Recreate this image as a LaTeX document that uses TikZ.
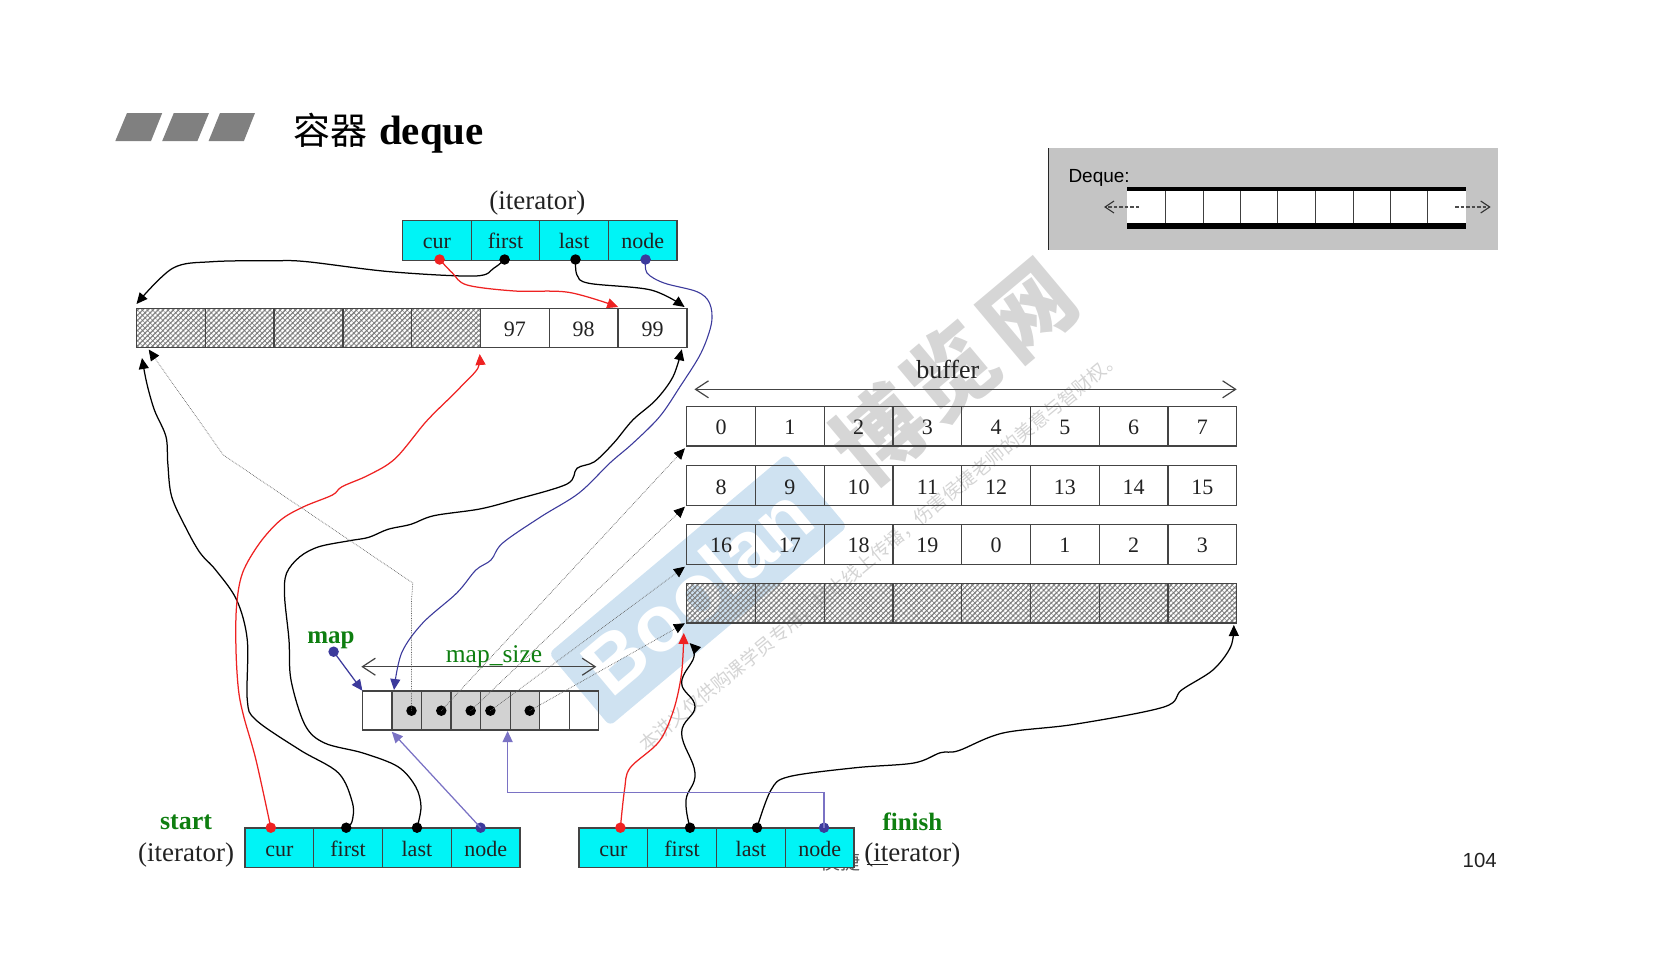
\documentclass[tikz,border=0pt]{standalone}
\usepackage{fontspec}
\setmainfont{Liberation Serif}
\newfontfamily\cjkfont{Noto Sans CJK SC}
\newfontfamily\arialfont{Liberation Sans}
\usetikzlibrary{arrows.meta,patterns.meta,shapes.geometric}
\newcommand\myfs[1]{\fontsize{#1}{#1}\selectfont}
\definecolor{cyanbox}{HTML}{00F4F6}
\definecolor{greenlab}{HTML}{0E7E10}
\definecolor{ink}{HTML}{222222}
\definecolor{edge}{HTML}{444444}
\definecolor{redline}{HTML}{EE2222}
\definecolor{blueline}{HTML}{3C3A9C}
\definecolor{softblue}{HTML}{7A72C4}
\definecolor{wmblue}{HTML}{CFE2F1}
\definecolor{wmgrey}{HTML}{D6D6D6}
\definecolor{wmsmall}{HTML}{D4D4D4}
\definecolor{insetgrey}{HTML}{C4C4C4}
\definecolor{mapgrey}{HTML}{D2D2D2}
\tikzset{
  basecell/.style={draw=edge,line width=1.3pt,inner sep=0pt,outer sep=0pt,text=ink,font=\myfs{22},text height=22pt,text depth=5pt},
  itercell/.style={basecell,fill=cyanbox,minimum width=68.7pt,minimum height=39.5pt},
  arrcell/.style={basecell,minimum width=68.75pt,minimum height=39.5pt},
  hatchcell/.style={arrcell,
    preaction={pattern={Lines[angle=45,distance=3.6pt,line width=1.3pt]},pattern color=black!48},
    pattern={Lines[angle=-45,distance=3.6pt,line width=.45pt]},pattern color=black!55},
  mapcell/.style={basecell,minimum width=29.55pt,minimum height=39pt},
  lab/.style={inner sep=0pt,text=ink,font=\myfs{27}},
  glab/.style={inner sep=0pt,text=greenlab,font=\myfs{26}\bfseries},
  dotnode/.style={circle,fill=#1,inner sep=0pt,minimum size=10.5pt},
  tip/.style={-{Triangle[length=11pt,width=10pt]}},
  curve/.style={line width=1.25pt,tip,#1},
  dotlink/.style={line width=.7pt,draw=black!62,densely dotted,-{Triangle[length=11pt,width=10pt,color=black]}},
  span/.style={line width=1.2pt,draw=edge,{Straight Barb[length=13pt,width=17pt]}-{Straight Barb[length=13pt,width=17pt]}},
  wmchar/.style={inner sep=0pt,rotate=40,text=wmgrey,font=\myfs{90}\cjkfont\bfseries},
}
\begin{document}
\begin{tikzpicture}[x=1pt,y=-1pt]
\useasboundingbox (0,0) rectangle (1653,967);

% watermark, behind everything
\node[fill=wmblue,rotate=40,minimum width=310pt,minimum height=95pt,rounded corners=6pt] (wmbox) at (698,590) {};
\node[inner sep=0pt,rotate=40,text=white,font=\myfs{80}\arialfont\bfseries] (wmname) at (697,590) {Boolan};
\node[wmchar] (wm1) at (880,434) {博};
\node[wmchar] (wm2) at (950,372) {览};
\node[wmchar] (wm3) at (1029,311) {网};
\node[inner sep=0pt,rotate=39.4,text=wmsmall,font=\myfs{18.7}\cjkfont] (wmtext) at (880,551) {本讲义仅供购课学员专用，禁止线上传播，伤害侯捷老师的美意与智财权。};

% title
\fill[black!50] (115.3,141) -- (127,113) -- (162.2,113) -- (151,141) -- cycle;
\fill[black!50] (162.2,141) -- (173.8,113) -- (209,113) -- (197.4,141) -- cycle;
\fill[black!50] (208.6,141) -- (220,113) -- (255,113) -- (243.9,141) -- cycle;
\node[anchor=base west,inner sep=0pt,text=black] (title) at (292.8,144) {{\myfs{37}\cjkfont 容器}\hspace{12pt}{\myfs{41}\bfseries deque}};

% inset
\fill[insetgrey] (1048.3,148.3) rectangle (1498.3,250);
\draw[line width=1.2pt,black!85] (1048.3,148.3) -- (1048.3,250);
\fill[white] (1127,190) rectangle (1465.7,224);
\fill[black] (1127,186.7) rectangle (1465.7,191.3);
\fill[black] (1127,223) rectangle (1465.7,229);
\foreach \vx in {1165.7,1203,1240.3,1277.7,1315.3,1353.3,1390.3,1427.7}
  \draw[line width=.9pt,black!75] (\vx,191) -- (\vx,223);
\node[anchor=west,inner sep=0pt,text=black,font=\myfs{19}\arialfont] (dequelab) at (1068.3,178) {Deque:};
\coordinate (insL0) at (1139,207);
\coordinate (insL1) at (1104,207);
\coordinate (insR0) at (1455,207);
\coordinate (insR1) at (1490.7,207);
\draw[line width=1.1pt,black!70,dash pattern=on 3.5pt off 2pt,-{Straight Barb[length=9pt,width=12pt,color=black!80]}] (insL0) -- (insL1);
\draw[line width=1.1pt,black!70,dash pattern=on 3.5pt off 2pt,-{Straight Barb[length=9pt,width=12pt,color=black!80]}] (insR0) -- (insR1);

% top iterator
\foreach \t [count=\i] in {cur,first,last,node}
  \node[itercell,minimum width=68.6pt] (t\i) at ({402.6+68.6*(\i-.5)},240.4) {\t};
\node[lab] (titer) at (537.4,203.5) {(iterator)};

% top array
\foreach \i in {1,...,5}
  \node[hatchcell,minimum width=68.8pt] (a\i) at ({136.5+68.8*(\i-.5)},328) {};
\foreach \t [count=\i from 6] in {97,98,99}
  \node[arrcell,minimum width=68.8pt] (a\i) at ({136.5+68.8*(\i-.5)},328) {\t};

% buffers
\node[lab,font=\myfs{26}] (buflab) at (947.8,369) {buffer};
\coordinate (bufL) at (694.4,389.3);
\coordinate (bufR) at (1236.7,389.3);
\draw[span] (bufL) -- (bufR);
\foreach \t [count=\i] in {0,1,2,3,4,5,6,7}
  \node[arrcell] (ba\i) at ({686.8+68.75*(\i-.5)},426.3) {\t};
\foreach \t [count=\i] in {8,9,10,11,12,13,14,15}
  \node[arrcell] (bb\i) at ({686.8+68.75*(\i-.5)},485.5) {\t};
\foreach \t [count=\i] in {16,17,18,19,0,1,2,3}
  \node[arrcell] (bc\i) at ({686.8+68.75*(\i-.5)},544.4) {\t};
\foreach \i in {1,...,8}
  \node[hatchcell] (bd\i) at ({686.8+68.75*(\i-.5)},603.2) {};

% map
\node[mapcell] (m1) at (377.2,710.5) {};
\foreach \i in {2,...,6}
  \node[mapcell,fill=mapgrey] (m\i) at ({362.4+29.55*(\i-.5)},710.5) {};
\node[mapcell] (m7) at (554.4,710.5) {};
\node[mapcell] (m8) at (584,710.5) {};
\node[glab,font=\myfs{25}\bfseries] (maplab) at (331,640) {map};
\node[lab,font=\myfs{25.5},text=greenlab] (mapsize) at (494,656.5) {map\_size};
\coordinate (msL) at (361.3,666.7);
\coordinate (msR) at (596.3,666.7);
\draw[span] (msL) -- (msR);

% lower iterators
\foreach \t [count=\i] in {cur,first,last,node}
  \node[itercell,minimum width=68.8pt] (s\i) at ({244.9+68.8*(\i-.5)},847.7) {\t};
\node[glab] (startlab) at (186,822.5) {start};
\node[lab] (siter) at (186,855) {(iterator)};

\node[inner sep=0pt,text=black!65,font=\myfs{20}\cjkfont] (author) at (840,862) {侯捷};
\foreach \t [count=\i] in {cur,first,last,node}
  \node[itercell,minimum width=68.8pt] (f\i) at ({578.9+68.8*(\i-.5)},847.7) {\t};
\node[glab,font=\myfs{25}\bfseries] (finishlab) at (912.4,821.5) {finish};
\node[lab] (fiter) at (912.4,855) {(iterator)};
\draw[line width=1pt,ink] (866.7,864) -- (888,864);

% dot nodes
\node[dotnode=redline] (tcur) at (439.6,259.5) {};
\node[dotnode=black] (tfirst) at (504.6,259.5) {};
\node[dotnode=black] (tlast) at (575.5,259.5) {};
\node[dotnode=blueline] (tnode) at (645.6,259.5) {};
\node[dotnode=redline] (scur) at (270.8,827.7) {};
\node[dotnode=black] (sfirst) at (346.2,827.7) {};
\node[dotnode=black] (slast) at (417,827.7) {};
\node[dotnode=blueline] (snode) at (480.6,827.7) {};
\node[dotnode=redline] (fcur) at (620.4,827.7) {};
\node[dotnode=black] (ffirst) at (690,827.7) {};
\node[dotnode=black] (flast) at (757,827.7) {};
\node[dotnode=blueline] (fnode) at (824,827.7) {};
\node[dotnode=blueline] (mapdot) at (333.6,651.7) {};
\node[dotnode=black] (d1) at (411.5,710.7) {};
\node[dotnode=black] (d2) at (441.3,710.7) {};
\node[dotnode=black] (d3) at (470.7,710.7) {};
\node[dotnode=black] (d4) at (490.4,710.7) {};
\node[dotnode=black] (d5) at (529.7,710.7) {};

% arrow targets
\coordinate (aTopLeft) at (136.5,304);
\coordinate (aRedTop) at (618.2,307);
\coordinate (aLastTop) at (684.6,307);
\coordinate (aBelow1) at (142,358);
\coordinate (aBelow2) at (148.7,349.5);
\coordinate (aBelowR) at (479.7,354);
\coordinate (aBelowE) at (681.8,349.3);
\coordinate (mTop) at (394,690);
\coordinate (mCorner) at (362.4,690.7);
\coordinate (mUnder1) at (391.8,731.7);
\coordinate (mUnder2) at (507.6,731);
\coordinate (bendA) at (507.6,792.7);
\coordinate (bendB) at (824,792.7);
\coordinate (rowA) at (684.9,448.3);
\coordinate (rowB) at (684.9,506.7);
\coordinate (rowC) at (684.9,566.7);
\coordinate (rowD) at (684.9,623.3);
\coordinate (fRedTip) at (683.8,633);
\coordinate (fFirstTip) at (689.6,643);
\coordinate (fLastTip) at (1233.8,625);

% top iterator links
\draw[curve=black] plot[smooth,tension=.55] coordinates {(tfirst.center) (494,268) (475,276) (390,271.7) (307,261.7) (274,260.7) (212,261.7) (172.6,268.3) (aTopLeft)};
\draw[curve=redline] plot[smooth,tension=.55] coordinates {(tcur.center) (452.4,273) (467,285) (514.6,291) (568.5,292.3) (aRedTop)};
\draw[curve=black] plot[smooth,tension=.55] coordinates {(tlast.center) (577,275) (589,283.3) (651,290) (aLastTop)};
\draw[curve=blueline,line width=1.1pt] plot[smooth,tension=.55] coordinates {(tnode.center) (647,273) (664,283) (697,291.7) (709.5,303) (711.5,323) (701,353) (680,386.7) (659.6,416.7) (632.8,443.3) (609.9,463) (579,493) (541,516.7) (502.7,543) (491,560) (475.9,570) (456.8,593) (422.7,623) (401.6,653) (mTop)};

% start links
\draw[curve=black] plot[smooth,tension=.55] coordinates {(sfirst.center) (352,821.7) (352.5,803) (338.5,773) (300,750) (256,720) (247.3,700) (247.3,640) (236.7,600) (215.7,570) (200.4,553.3) (187,530) (171.7,496.7) (167.8,463.3) (166,436.7) (154.4,410) (146.8,383.3) (aBelow1)};
\draw[curve=redline] plot[smooth,tension=.55] coordinates {(scur.center) (256,760) (243.8,716.7) (238.5,690) (236,650) (236.5,606.7) (242.5,573) (259.7,543) (280.7,520) (303.7,506.7) (332.4,495) (342,486.7) (368.8,475) (395.5,458.3) (426,421.7) (451,396.7) (462.5,385) (477.8,368.3) (aBelowR)};
\draw[curve=black] plot[smooth,tension=.55] coordinates {(slast.center) (421,806.7) (415.7,786.7) (398,766.7) (363,753) (324.5,743) (305,725) (291,680) (289,640) (284.6,596.7) (286.5,573.3) (299.9,556.7) (319,546.7) (349.6,540.7) (368.8,537.3) (388,529.3) (410.9,524.3) (433.8,515.7) (479.7,509) (514,500) (567,484) (577,468.3) (594.5,461.7) (613.7,443) (632.8,420) (655.8,400) (673,376.7) (aBelowE)};
\draw[curve=softblue] (snode.center) -- (mUnder1);

% finish links
\draw[curve=redline] plot[smooth,tension=.55] coordinates {(fcur.center) (624.5,790) (630,768) (659,741.7) (673.6,710) (681.6,673) (fRedTip)};
\draw[curve=black] plot[smooth,tension=.7] coordinates {(ffirst.center) (686,800) (695,773) (681.6,733) (695,706.7) (681.6,683) (694,656.7) (fFirstTip)};
\draw[curve=black] plot[smooth,tension=.55] coordinates {(flast.center) (771,790) (788.8,776.7) (855.7,767.7) (913.8,763) (940.5,752.7) (958.4,750.7) (1003,733) (1074.5,724.3) (1163.8,707) (1181.6,690) (1212.9,670) (1230.7,646.7) (fLastTip)};
\draw[curve=softblue] (fnode.center) -- (bendB) -- (bendA) -- (mUnder2);

% map links
\draw[curve=blueline] (mapdot.center) -- (mCorner);
\draw[dotlink] (d1.center) -- (411.5,600) -- (412.8,583) -- (223.3,455) -- (aBelow2);
\draw[dotlink] (d2.center) -- (rowA);
\draw[dotlink] (d3.center) -- (rowB);
\draw[dotlink] (d4.center) -- (rowC);
\draw[dotlink] (d5.center) -- (rowD);

% page number
\node[inner sep=0pt,text=ink,font=\myfs{20.4}\arialfont] (pageno) at (1479.7,860.7) {104};
\end{tikzpicture}
\end{document}
